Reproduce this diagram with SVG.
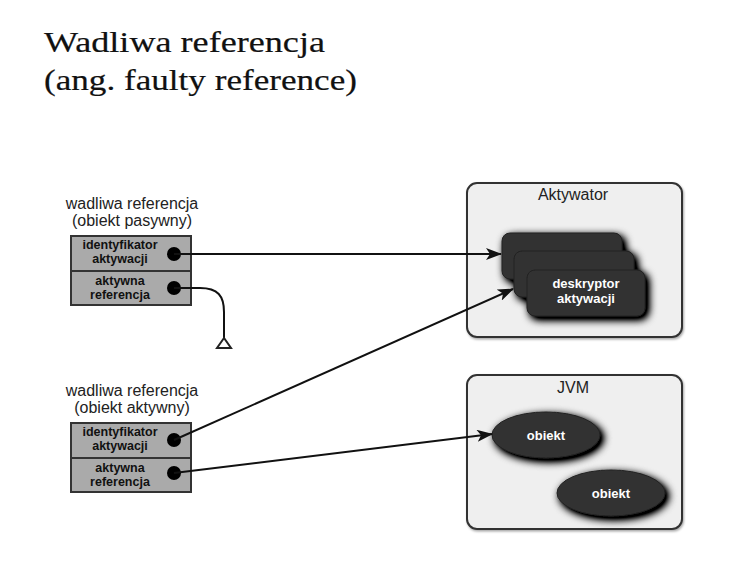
<svg xmlns="http://www.w3.org/2000/svg" width="747" height="561" viewBox="0 0 747 561">
<defs>
<style>
.title{font-family:"Liberation Serif","Times New Roman",serif;font-size:30px;fill:#111;stroke:#111;stroke-width:0.2}
.lbl{font-family:"Liberation Sans",Arial,sans-serif;font-size:16px;fill:#222;text-anchor:middle}
.cell{fill:#aaaaaa;stroke:#333;stroke-width:2}
.ct{font-family:"Liberation Sans",Arial,sans-serif;font-size:12.5px;font-weight:bold;fill:#111;text-anchor:middle}
.dot{fill:#000}
.cont{fill:#efefef;stroke:#333;stroke-width:2}
.dark{fill:#333;stroke:#222;stroke-width:1}
.wt{font-family:"Liberation Sans",Arial,sans-serif;font-size:13px;font-weight:bold;fill:#fff;text-anchor:middle}
.conn{fill:none;stroke:#111;stroke-width:2}
</style>
<filter id="glow" x="-30%" y="-40%" width="160%" height="180%">
<feGaussianBlur in="SourceAlpha" stdDeviation="4.5"/>
<feOffset dx="3" dy="3" result="b"/>
<feComponentTransfer in="b" result="bb"><feFuncA type="linear" slope="1.6"/></feComponentTransfer>
<feMerge><feMergeNode in="bb"/><feMergeNode in="SourceGraphic"/></feMerge>
</filter>
<filter id="soft" x="-5%" y="-5%" width="110%" height="110%">
<feDropShadow dx="1" dy="1.5" stdDeviation="1" flood-color="#000" flood-opacity="0.35"/>
</filter>
<marker id="arr" viewBox="0 0 16 12" refX="15" refY="6" markerWidth="16" markerHeight="12" markerUnits="userSpaceOnUse" orient="auto">
<path d="M0,0 L16,6 L0,12 L4,6 Z" fill="#111"/>
</marker>
</defs>
<rect width="747" height="561" fill="#fff"/>

<g id="title">
<text class="title" x="44" y="52" textLength="281" lengthAdjust="spacingAndGlyphs">Wadliwa referencja</text>
<text class="title" x="44" y="90" textLength="313" lengthAdjust="spacingAndGlyphs">(ang. faulty reference)</text>
</g>

<g id="aktywator">
<rect class="cont" x="467" y="183" width="215" height="154" rx="10" filter="url(#soft)"/>
<text class="lbl" x="573" y="200">Aktywator</text>
<g filter="url(#glow)">
<rect class="dark" x="502" y="233" width="120" height="46" rx="8"/>
<rect class="dark" x="514" y="251" width="120" height="46" rx="8"/>
<rect class="dark" x="527" y="270" width="118" height="46" rx="8"/>
</g>
<text class="wt" x="586" y="288">deskryptor</text>
<text class="wt" x="586" y="303">aktywacji</text>
</g>

<g id="jvm">
<rect class="cont" x="467" y="375" width="215" height="154" rx="10" filter="url(#soft)"/>
<text class="lbl" x="573" y="393">JVM</text>
<ellipse class="dark" cx="546" cy="435" rx="54" ry="23" filter="url(#glow)"/>
<text class="wt" x="546" y="440">obiekt</text>
<ellipse class="dark" cx="611" cy="493" rx="54" ry="23" filter="url(#glow)"/>
<text class="wt" x="611" y="498">obiekt</text>
</g>

<g id="ref-pasywny">
<text class="lbl" x="132" y="209">wadliwa referencja</text>
<text class="lbl" x="132" y="226">(obiekt pasywny)</text>
<rect class="cell" x="71" y="236" width="120" height="35"/>
<rect class="cell" x="71" y="271" width="120" height="34"/>
<text class="ct" x="120" y="249">identyfikator</text>
<text class="ct" x="120" y="263">aktywacji</text>
<text class="ct" x="120" y="285">aktywna</text>
<text class="ct" x="120" y="299">referencja</text>
<circle class="dot" cx="174" cy="254" r="7"/>
<circle class="dot" cx="174" cy="288" r="7"/>
</g>

<g id="ref-aktywny">
<text class="lbl" x="132" y="396">wadliwa referencja</text>
<text class="lbl" x="132" y="413">(obiekt aktywny)</text>
<rect class="cell" x="71" y="423" width="120" height="35"/>
<rect class="cell" x="71" y="458" width="120" height="34"/>
<text class="ct" x="120" y="436">identyfikator</text>
<text class="ct" x="120" y="450">aktywacji</text>
<text class="ct" x="120" y="472">aktywna</text>
<text class="ct" x="120" y="486">referencja</text>
<circle class="dot" cx="174" cy="440" r="7"/>
<circle class="dot" cx="174" cy="473" r="7"/>
</g>

<g id="connectors">
<path class="conn" d="M174,254 L501,254" marker-end="url(#arr)"/>
<path class="conn" d="M174,288 L200,288 C218,288 224,296 224,312 L224,338"/>
<polygon points="224,338 217,348 231,348" fill="#fff" stroke="#222" stroke-width="2"/>
<path class="conn" d="M174,440 L513,289" marker-end="url(#arr)"/>
<path class="conn" d="M174,473 L492,434" marker-end="url(#arr)"/>
</g>
</svg>
